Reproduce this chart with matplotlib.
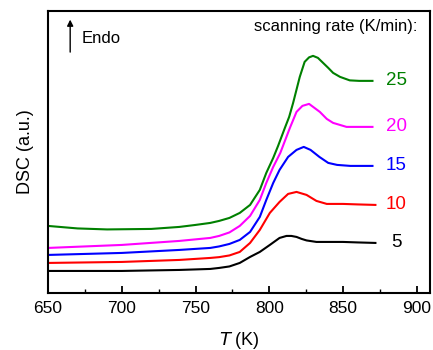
import matplotlib
matplotlib.use("Agg")
import matplotlib.pyplot as plt

plt.rcParams['font.family'] = ['Liberation Sans', 'DejaVu Sans']

# DSC traces (arbitrary units)
T5 = [650, 700, 739, 760, 766, 773, 780, 787, 793.6, 800.4, 807, 811.7, 815, 818.5, 822, 825.3, 832, 840, 850, 860, 872]
dsc5 = [22, 22, 23, 24, 25, 26.5, 30, 36, 41, 48, 55, 57, 57, 56, 54, 52.5, 51, 51, 51, 50.5, 50]

T10 = [650, 700, 739, 760, 766, 773, 780, 787, 793.6, 800.4, 807, 812.8, 818.5, 825.3, 832, 839, 850, 860, 872]
dsc10 = [30, 31, 33, 35, 35.8, 37.5, 41, 50, 63, 80, 91, 99, 101, 98, 92, 89, 89, 88.5, 88]

T15 = [650, 700, 739, 760, 766, 773, 780, 787, 793.6, 798, 802.7, 807, 812.8, 818.5, 823.4, 828, 834, 840, 846, 855, 870]
dsc15 = [38, 40, 43, 45, 46.5, 49, 53, 61, 76, 93, 110, 123, 136, 143, 146, 143, 136, 130, 128, 127, 127]

T20 = [650, 700, 739, 760, 766, 773, 780, 787, 793.6, 798, 802.7, 807.5, 814, 818.5, 822.5, 827, 834.3, 839, 843.3, 852.4,
       861, 870]
dsc20 = [45, 48, 52, 55, 57, 60.5, 67, 77, 93, 110, 126, 140, 165, 181, 187, 189, 181, 174, 170, 166, 166, 166]

T25 = [650, 670, 690, 720, 739, 750, 760, 766, 773, 780, 787, 793.6, 798, 802.7, 806, 810.6, 813.5, 816.2, 820.7, 824, 827,
       829.7, 833, 836.5, 840, 843.3, 848, 854.6, 861, 870]
dsc25 = [67, 64.5, 63.5, 64, 66, 68, 70, 72, 75, 80, 88, 103, 120, 135, 147, 165, 176, 190, 216, 231, 235.5,
         237, 235, 230, 225, 220, 216, 212.5, 212, 212]

rates = ['5', '10', '15', '20', '25']
label_y = [50, 88, 127, 166, 212]
colors = ['black', 'red', 'blue', 'magenta', 'green']

fig = plt.figure(figsize=(4.33, 3.5), dpi=100)
ax = fig.add_axes([0.111, 0.163, 0.882, 0.806])

curves = [(T5, dsc5), (T10, dsc10), (T15, dsc15), (T20, dsc20), (T25, dsc25)]
for (t, d), c, r, ly in zip(curves, colors, rates, label_y):
    ax.plot(t, d, color=c, lw=1.5)
    ax.text(886, ly, r, color=c, fontsize=13.5, ha='center', va='center')

ax.text(900.5, 266, 'scanning rate (K/min):', fontsize=12, ha='right', va='center')
ax.annotate('', xy=(665, 276), xytext=(665, 238),
            arrowprops=dict(arrowstyle='-|>', color='black', lw=1.0, mutation_scale=9))
ax.text(673, 254, 'Endo', fontsize=12, ha='left', va='center')

ax.set_xlim(650, 909)
ax.set_ylim(0, 282)
ax.set_xticks([650, 700, 750, 800, 850, 900])
ax.set_xticks([675, 725, 775, 825, 875], minor=True)
ax.set_yticks([])
ax.tick_params(axis='x', which='major', direction='in', length=5, width=1.3, labelsize=12.5, pad=6)
ax.tick_params(axis='x', which='minor', direction='in', length=3, width=1.0)
for s in ax.spines.values():
    s.set_linewidth(1.5)

ax.set_xlabel(r'$\mathit{T}$ (K)', fontsize=13, labelpad=10)
ax.set_ylabel('DSC (a.u.)', fontsize=13, labelpad=10)

fig.savefig('out.png', dpi=100)
